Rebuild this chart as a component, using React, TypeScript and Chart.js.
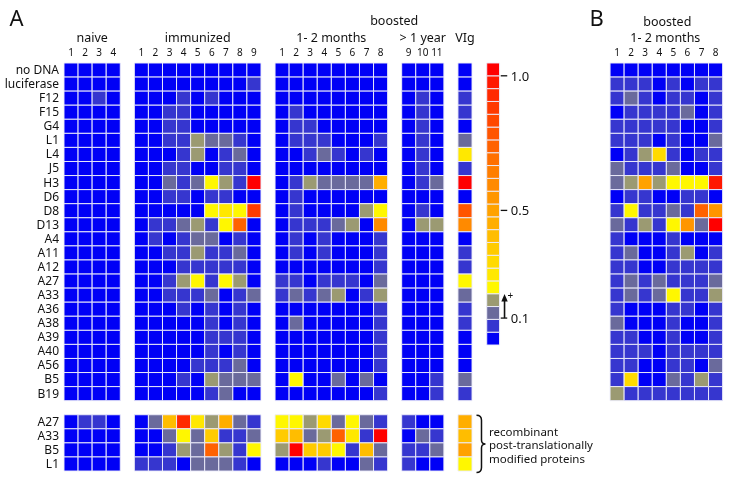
import React, { useEffect, useRef } from 'react';
import { Chart, registerables } from 'chart.js';

Chart.register(...registerables);

// ---------------- DATA ----------------
const rowLabels = ['no DNA', 'luciferase', 'F12', 'F15', 'G4', 'L1', 'L4', 'J5', 'H3', 'D6', 'D8', 'D13',
  'A4', 'A11', 'A12', 'A27', 'A33', 'A36', 'A38', 'A39', 'A40', 'A56', 'B5', 'B19'];
const recombinantLabels = ['A27', 'A33', 'B5', 'L1'];

const naiveCols = ['1', '2', '3', '4'];
const immunizedCols = ['1', '2', '3', '4', '5', '6', '7', '8', '9'];
const boostedCols = ['1', '2', '3', '4', '5', '6', '7', '8'];
const yearCols = ['9', '10', '11'];
const vigCols = [''];
const panelBCols = ['1', '2', '3', '4', '5', '6', '7', '8'];

// each row: naive 1-4 | immunized 1-9 | boosted 1-8 | >1 year 9-11 | VIg
const panelATop: number[][] = [
  [.02, .02, .02, .02, .02, .02, .02, .02, .02, .02, .02, .02, .02, .02, .02, .02, .02, .02, .02, .02, .02, .02, .02, .02, .02],
  [.02, .02, .02, .02, .02, .02, .02, .02, .02, .02, .02, .02, .07, .02, .02, .02, .02, .02, .02, .02, .02, .02, .02, .02, .02],
  [.02, .02, .07, .02, .02, .02, .02, .07, .02, .07, .02, .02, .02, .02, .02, .02, .02, .02, .02, .02, .02, .02, .07, .02, .07],
  [.02, .02, .02, .02, .02, .02, .07, .07, .02, .02, .02, .02, .02, .02, .07, .02, .02, .02, .02, .02, .02, .02, .07, .02, .07],
  [.02, .02, .02, .02, .02, .02, .07, .07, .02, .02, .02, .02, .02, .02, .07, .07, .02, .02, .02, .02, .02, .02, .07, .02, .02],
  [.02, .02, .02, .02, .02, .02, .07, .07, .17, .12, .12, .07, .02, .02, .07, .07, .07, .02, .02, .02, .07, .02, .07, .02, .12],
  [.02, .02, .02, .02, .02, .02, .02, .07, .17, .02, .07, .12, .02, .02, .02, .07, .12, .07, .02, .07, .02, .02, .07, .02, .26],
  [.02, .02, .02, .02, .02, .02, .07, .07, .02, .02, .07, .07, .02, .02, .02, .02, .02, .02, .02, .02, .02, .02, .07, .02, .07],
  [.02, .02, .02, .02, .02, .02, .12, .07, .12, .21, .17, .07, 1.02, .02, .07, .17, .12, .12, .12, .12, .45, .02, .07, .12, 1.02],
  [.02, .02, .02, .02, .02, .02, .07, .07, .02, .07, .07, .02, .02, .02, .07, .02, .02, .02, .02, .02, .02, .02, .02, .02, .02],
  [.02, .02, .02, .02, .02, .02, .02, .02, .02, .21, .26, .21, .88, .02, .07, .02, .02, .02, .02, .17, .21, .02, .07, .02, .79],
  [.02, .02, .02, .02, .02, .07, .07, .12, .17, .07, .21, .74, .02, .02, .07, .07, .07, .12, .17, .02, .60, .02, .17, .17, .60],
  [.02, .02, .02, .02, .02, .07, .02, .07, .12, .12, .02, .07, .02, .02, .07, .02, .07, .02, .02, .02, .07, .02, .02, .02, .02],
  [.02, .02, .02, .02, .02, .02, .07, .07, .17, .07, .07, .12, .02, .02, .07, .02, .07, .02, .02, .02, .07, .02, .02, .02, .07],
  [.02, .02, .02, .02, .02, .02, .02, .07, .07, .07, .07, .07, .02, .02, .02, .02, .02, .02, .02, .02, .07, .02, .02, .02, .07],
  [.02, .02, .02, .02, .02, .02, .07, .17, .21, .07, .21, .17, .02, .07, .07, .02, .07, .07, .07, .02, .12, .02, .02, .02, .21],
  [.02, .02, .02, .02, .02, .02, .07, .07, .07, .12, .02, .07, .12, .07, .12, .07, .12, .17, .02, .07, .17, .02, .02, .02, .12],
  [.02, .02, .02, .02, .02, .02, .02, .07, .02, .07, .02, .07, .02, .02, .02, .02, .02, .02, .02, .02, .07, .02, .02, .02, .07],
  [.02, .02, .02, .02, .02, .02, .02, .02, .02, .07, .02, .07, .02, .02, .12, .02, .02, .02, .02, .02, .07, .02, .02, .02, .07],
  [.02, .02, .02, .02, .02, .02, .02, .02, .02, .07, .07, .07, .02, .02, .02, .02, .02, .02, .02, .02, .07, .02, .02, .02, .02],
  [.02, .02, .02, .02, .02, .02, .02, .02, .02, .07, .02, .07, .02, .02, .02, .02, .02, .02, .02, .02, .07, .02, .02, .02, .02],
  [.02, .02, .02, .02, .02, .02, .02, .02, .07, .07, .07, .12, .02, .02, .02, .02, .02, .02, .02, .02, .07, .02, .02, .02, .02],
  [.02, .02, .02, .02, .02, .02, .02, .07, .02, .17, .12, .12, .12, .02, .21, .02, .02, .12, .02, .12, .02, .02, .02, .07, .12],
  [.02, .02, .02, .02, .02, .02, .02, .02, .02, .07, .12, .02, .02, .02, .02, .02, .02, .02, .02, .02, .07, .02, .02, .07, .07],
];

const panelABottom: number[][] = [
  [.02, .07, .07, .02, .02, .12, .40, .93, .26, .17, .45, .12, .07, .21, .21, .17, .31, .12, .21, .12, .07, .07, .02, .02, .45],
  [.02, .02, .02, .02, .02, .02, .12, .21, .12, .36, .07, .07, .12, .36, .40, .12, .17, .74, .26, .07, 1.02, .02, .12, .07, .40],
  [.02, .02, .02, .02, .02, .02, .07, .17, .12, .74, .17, .07, .21, .17, 1.02, .36, .36, .21, .07, .40, .12, .07, .07, .12, .50],
  [.02, .02, .02, .02, .07, .07, .07, .02, .12, .12, .12, .07, .02, .02, .02, .02, .07, .02, .02, .12, .07, .07, .02, .02, .21],
];

const panelB: number[][] = [
  [.02, .02, .02, .02, .02, .02, .02, .02],
  [.07, .07, .07, .02, .07, .02, .07, .07],
  [.07, .12, .07, .02, .07, .07, .02, .07],
  [.02, .07, .07, .07, .07, .12, .02, .07],
  [.07, .07, .07, .07, .07, .02, .02, .07],
  [.07, .07, .07, .02, .07, .02, .02, .12],
  [.02, .07, .17, .31, .07, .02, .07, .07],
  [.12, .07, .07, .07, .12, .02, .02, .07],
  [.12, .17, .50, .17, .21, .21, .21, .98],
  [.02, .07, .07, .02, .02, .07, .07, .02],
  [.07, .21, .07, .07, .12, .07, .74, .55],
  [.12, .07, .17, .07, .21, .55, .12, 1.02],
  [.07, .02, .02, .02, .07, .02, .02, .02],
  [.07, .12, .02, .02, .07, .17, .02, .07],
  [.07, .07, .02, .02, .07, .07, .07, .07],
  [.07, .12, .07, .12, .07, .07, .07, .12],
  [.07, .12, .07, .12, .21, .07, .07, .17],
  [.07, .02, .02, .02, .07, .07, .02, .07],
  [.12, .02, .02, .02, .07, .02, .02, .07],
  [.07, .07, .02, .02, .07, .02, .02, .07],
  [.07, .07, .07, .02, .07, .07, .07, .07],
  [.07, .07, .02, .02, .07, .07, .02, .12],
  [.07, .31, .02, .02, .12, .07, .17, .07],
  [.17, .07, .07, .07, .07, .07, .07, .07],
];

const colorbarValues = [0.02, 0.07, 0.12, 0.17, 0.21, 0.26, 0.31, 0.36, 0.40, 0.45, 0.50,
  0.55, 0.60, 0.64, 0.69, 0.74, 0.79, 0.83, 0.88, 0.93, 0.98, 1.02];
const colorbarTicks = [1.0, 0.5, 0.1];
const colorbarTickLabels = ['1.0', '0.5', '0.1'];

// ---------------- STYLE / LAYOUT ----------------
const palette = ['#0000f6', '#3636cf', '#6a6a9c', '#9b9a72', '#fff700', '#ffe800', '#ffda00', '#ffcb00',
  '#ffbd00', '#ffae00', '#ffa200', '#ff9600', '#ff8a00', '#ff7e00', '#ff7000', '#ff6200', '#ff5500',
  '#ff4800', '#ff3a00', '#ff2a00', '#ff1800', '#ff0000'];
const NLEV = 21;
const levelOf = (v: number) => Math.max(0, Math.min(palette.length - 1, Math.floor(v * NLEV)));
const colorOf = (v: number) => palette[levelOf(v)];

const groupStart = [0, 5, 15, 24, 28]; // grid column of each group's first column
const groupCols = [naiveCols, immunizedCols, boostedCols, yearCols, vigCols];
const panelBStart = 38.81;
const colorbarCol = 30;
const bottomRowStart = 25;
const CELL = 14.07; // px per grid unit
const FONT = '"Noto Sans", "DejaVu Sans", sans-serif';

function panelAColumn(j: number): number {
  let k = j;
  for (let g = 0; g < groupCols.length; g++) {
    if (k < groupCols[g].length) return groupStart[g] + k;
    k -= groupCols[g].length;
  }
  return 0;
}

function buildDatasets() {
  const cells: { x: number; y: number }[] = [];
  const colors: string[] = [];
  panelATop.forEach((row, r) => row.forEach((v, j) => {
    cells.push({ x: panelAColumn(j), y: r }); colors.push(colorOf(v));
  }));
  panelABottom.forEach((row, r) => row.forEach((v, j) => {
    cells.push({ x: panelAColumn(j), y: bottomRowStart + r }); colors.push(colorOf(v));
  }));
  const bCells: { x: number; y: number }[] = [];
  const bColors: string[] = [];
  panelB.forEach((row, r) => row.forEach((v, j) => {
    bCells.push({ x: panelBStart + j, y: r }); bColors.push(colorOf(v));
  }));
  const cbCells = colorbarValues.map((v) => ({ x: colorbarCol, y: (levelOf(v) + 0.5) / NLEV }));
  const cbColors = colorbarValues.map(colorOf);
  const common = {
    pointStyle: 'rect' as const,
    pointBorderWidth: 1,
    pointBorderColor: 'rgba(236,236,250,0.95)',
    showLine: false,
  };
  return [
    { ...common, label: 'A', data: cells, pointBackgroundColor: colors, pointRadius: CELL / Math.SQRT2 },
    { ...common, label: 'B', data: bCells, pointBackgroundColor: bColors, pointRadius: CELL / Math.SQRT2 },
    { ...common, label: 'scale', data: cbCells, yAxisID: 'yc', pointBackgroundColor: cbColors, pointRadius: 12.82 / Math.SQRT2 },
  ];
}

const textPlugin = {
  id: 'figText',
  afterDraw(chart: any) {
    const ctx: CanvasRenderingContext2D = chart.ctx;
    const xs = chart.scales.x, ys = chart.scales.y, yc = chart.scales.yc;
    const px = (c: number) => xs.getPixelForValue(c);
    const py = (r: number) => ys.getPixelForValue(r);
    const top = py(-0.5);
    ctx.save();
    ctx.fillStyle = '#111';
    ctx.strokeStyle = '#111';

    // panel letters
    ctx.font = `22px ${FONT}`;
    ctx.textAlign = 'left';
    ctx.textBaseline = 'alphabetic';
    ctx.fillText('A', 9.5, 25.5);
    ctx.fillText('B', px(panelBStart - 0.5) - 20.5, 25.5);

    // row labels
    ctx.font = `12px ${FONT}`;
    ctx.textAlign = 'right';
    ctx.textBaseline = 'middle';
    const lx = px(-0.5) - 5;
    rowLabels.forEach((t, r) => ctx.fillText(t, lx, py(r) + 0.5));
    recombinantLabels.forEach((t, r) => ctx.fillText(t, lx, py(bottomRowStart + r) + 0.5));

    // column numbers
    ctx.font = `10px ${FONT}`;
    ctx.textAlign = 'center';
    groupCols.forEach((cols, g) => cols.forEach((t, i) => ctx.fillText(t, px(groupStart[g] + i), top - 9.5)));
    panelBCols.forEach((t, i) => ctx.fillText(t, px(panelBStart + i), top - 9.5));

    // group titles
    ctx.font = `12.5px ${FONT}`;
    const mid = (g: number) => (px(groupStart[g]) + px(groupStart[g] + groupCols[g].length - 1)) / 2;
    ctx.fillText('naive', mid(0), top - 25);
    ctx.fillText('immunized', mid(1), top - 25);
    ctx.fillText('1- 2 months', mid(2), top - 25);
    ctx.fillText('> 1 year', mid(3), top - 25);
    ctx.fillText('VIg', mid(4), top - 25);
    ctx.fillText('boosted', (mid(2) + mid(4)) / 2 - 4, top - 42);
    const bMid = (px(panelBStart) + px(panelBStart + panelBCols.length - 1)) / 2;
    ctx.fillText('boosted', bMid + 1, top - 41);
    ctx.fillText('1- 2 months', bMid - 1, top - 25);

    // colour scale ticks
    const xr = px(colorbarCol) + 6.6;
    ctx.lineWidth = 1.3;
    ctx.font = `13px ${FONT}`;
    ctx.textAlign = 'left';
    colorbarTicks.forEach((t, i) => {
      const yy = yc.getPixelForValue(t);
      ctx.beginPath();
      ctx.moveTo(xr + 1, yy);
      ctx.lineTo(xr + 7.5, yy);
      ctx.stroke();
      ctx.fillText(colorbarTickLabels[i], xr + 11, yy + 1);
    });
    // arrow above 0.1
    const y01 = yc.getPixelForValue(0.1);
    const ax = xr + 4.8;
    ctx.lineWidth = 1.6;
    ctx.beginPath();
    ctx.moveTo(ax, y01);
    ctx.lineTo(ax, y01 - 18);
    ctx.stroke();
    ctx.beginPath();
    ctx.moveTo(ax, y01 - 24);
    ctx.lineTo(ax - 3.2, y01 - 16.5);
    ctx.lineTo(ax + 3.2, y01 - 16.5);
    ctx.closePath();
    ctx.fill();
    ctx.font = `10px ${FONT}`;
    ctx.fillText('+', ax + 3, y01 - 22);

    // bracket
    const bx = px(groupStart[4]) + 11.5;
    const by0 = py(bottomRowStart - 0.5) + 0.5;
    const by1 = py(bottomRowStart + 3.5) + 1.5;
    const bm = (by0 + by1) / 2;
    ctx.lineWidth = 1.5;
    ctx.beginPath();
    ctx.moveTo(bx, by0);
    ctx.quadraticCurveTo(bx + 5, by0, bx + 5, by0 + 5);
    ctx.lineTo(bx + 5, bm - 4);
    ctx.quadraticCurveTo(bx + 5, bm, bx + 9, bm);
    ctx.quadraticCurveTo(bx + 5, bm, bx + 5, bm + 4);
    ctx.lineTo(bx + 5, by1 - 5);
    ctx.quadraticCurveTo(bx + 5, by1, bx, by1);
    ctx.stroke();
    ctx.font = `11.5px ${FONT}`;
    ctx.textAlign = 'left';
    ctx.textBaseline = 'alphabetic';
    const tx = bx + 12.5;
    ctx.fillText('recombinant', tx, bm - 8);
    ctx.fillText('post-translationally', tx, bm + 5.5);
    ctx.fillText('modified proteins', tx, bm + 19.5);
    ctx.restore();
  },
};

export default function App() {
  const ref = useRef<HTMLCanvasElement>(null);
  useEffect(() => {
    if (!ref.current) return;
    const chart = new Chart(ref.current, {
      type: 'scatter',
      data: { datasets: buildDatasets() as any },
      options: {
        responsive: false,
        animation: false,
        events: [],
        layout: { padding: 0, autoPadding: false } as any,
        plugins: { legend: { display: false }, tooltip: { enabled: false } },
        scales: {
          x: { type: 'linear', min: -0.5 - 64 / CELL, max: -0.5 + 666 / CELL, display: false, bounds: 'data' },
          y: { type: 'linear', min: -0.5 - 63 / CELL, max: -0.5 + 414 / CELL, reverse: true, display: false, bounds: 'data' },
          yc: { type: 'linear', position: 'right', min: -132 / 269.2, max: 345 / 269.2, display: false, bounds: 'data' },
        },
      },
      plugins: [textPlugin],
    });
    return () => chart.destroy();
  }, []);
  return (
    <div style={{ position: 'absolute', left: 0, top: 0, width: 730, height: 477, background: '#fff' }}>
      <canvas ref={ref} width={730} height={477} style={{ display: 'block' }} />
    </div>
  );
}
